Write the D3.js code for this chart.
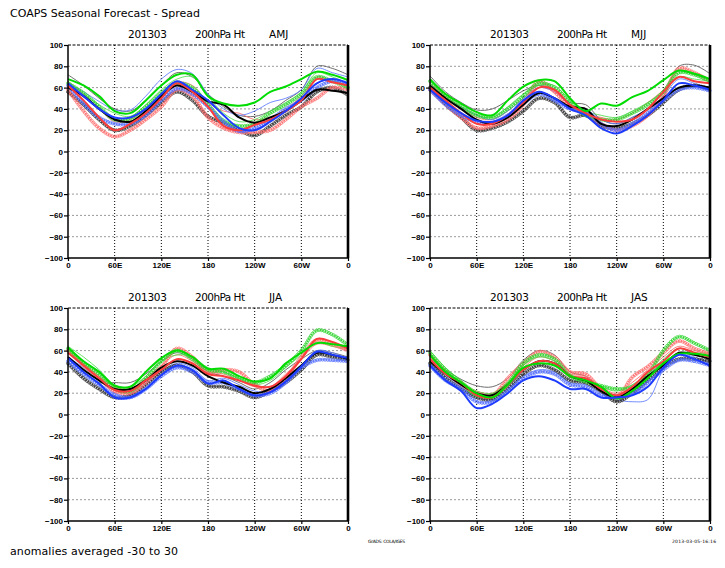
<!DOCTYPE html>
<html>
<head>
<meta charset="utf-8">
<script src="https://cdn.jsdelivr.net/npm/d3@7"></script>
<style>
  body { margin: 0; background: #fff; }
  text { font-family: "DejaVu Sans", sans-serif; fill: #000; }
  .tick text { font-family: "Liberation Sans", sans-serif; font-weight: bold; font-size: 8px; }
</style>
</head>
<body>
<div id="chart"></div>
<script>
// longitudes sampled every 20 degrees
var lons = [0, 20, 40, 60, 80, 100, 120, 140, 160, 180, 200, 220, 240, 260, 280, 300, 320, 340, 360];
var yTicks = [-100, -80, -60, -40, -20, 0, 20, 40, 60, 80, 100];
var xTickValues = [0, 60, 120, 180, 240, 300, 360];
var xTickLabels = ["0", "60E", "120E", "180", "120W", "60W", "0"];
var seasons = ["AMJ", "MJJ", "JJA", "JAS"];

var amj = {
  blackThin:  [72,62,50,40,38,48,62,74,70,54,42,34,33,38,48,58,80,78,72],
  blackThick: [60,52,40,30,28,38,52,62,56,47,44,32,27,32,38,48,58,57,55],
  blackCirc:  [56,44,30,20,24,34,46,56,48,33,27,20,15,24,34,42,56,60,53],
  redThin:    [66,54,40,28,30,40,54,65,62,46,38,36,30,32,40,52,70,66,63],
  redThick:   [62,48,32,20,26,36,50,64,56,42,24,20,25,30,38,48,68,65,62],
  redCirc:    [58,38,22,14,20,30,42,58,52,32,22,18,18,20,30,42,50,60,58],
  greenThin:  [66,54,44,36,33,44,58,68,70,52,36,28,30,38,46,56,74,70,64],
  greenThick: [68,62,52,38,36,48,62,72,72,52,45,43,46,56,61,68,75,72,67],
  greenCirc:  [64,55,42,30,31,42,55,64,60,44,29,24,26,36,44,54,70,66,60],
  blueThin:   [64,56,47,39,39,52,68,77,73,54,40,34,38,46,50,58,78,74,70],
  blueThick:  [64,52,40,32,32,40,54,66,58,48,34,22,20,28,38,50,64,68,64],
  blueCirc:   [62,45,32,26,26,34,48,59,54,42,28,19,22,30,40,48,60,66,64]
};

var mjj = {
  blackThin:  [71,56,46,39,40,48,57,62,58,46,44,30,26,32,40,52,80,81,73],
  blackThick: [62,50,40,30,26,32,44,55,50,42,40,26,24,30,40,50,60,62,60],
  blackCirc:  [60,44,32,20,22,28,38,50,46,32,34,24,22,26,34,46,58,62,58],
  redThin:    [64,52,42,32,30,38,50,60,56,44,36,32,30,36,46,58,76,72,68],
  redThick:   [60,48,36,26,26,34,46,60,58,44,36,30,28,30,40,56,70,66,64],
  redCirc:    [58,44,32,22,24,30,44,66,56,42,36,26,20,24,34,52,78,74,66],
  greenThin:  [66,52,42,34,32,42,54,62,62,48,38,34,32,38,46,56,70,68,66],
  greenThick: [68,54,45,37,34,48,61,67,66,50,38,45,43,51,57,67,76,73,68],
  greenCirc:  [66,52,42,34,32,40,52,64,60,46,34,30,30,36,44,56,74,72,66],
  blueThin:   [62,50,42,34,30,38,50,60,56,44,40,30,26,32,40,52,68,64,60],
  blueThick:  [58,46,36,29,28,34,48,56,50,40,34,22,17,24,34,48,64,62,58],
  blueCirc:   [58,44,34,28,27,34,45,54,48,40,38,26,20,26,36,48,58,60,57]
};

var jja = {
  blackThin:  [52,40,30,30,30,38,50,58,52,40,36,30,24,30,42,52,60,58,54],
  blackThick: [54,42,32,24,24,32,44,50,46,36,30,26,20,24,34,46,58,56,52],
  blackCirc:  [48,34,24,16,18,28,40,46,40,27,26,22,16,22,30,42,56,54,51],
  redThin:    [60,48,36,26,24,34,46,56,50,40,38,32,26,26,38,52,66,64,60],
  redThick:   [58,46,34,23,22,32,42,52,48,38,36,32,27,26,36,52,71,68,62],
  redCirc:    [60,46,34,22,20,30,44,62,54,40,42,40,28,22,34,54,70,66,60],
  greenThin:  [64,54,42,28,26,36,50,56,54,44,40,34,28,32,44,56,68,64,62],
  greenThick: [63,50,40,27,26,40,53,60,54,43,43,36,31,34,48,58,67,66,64],
  greenCirc:  [62,48,38,24,22,34,50,60,52,42,40,34,30,36,46,60,79,75,65],
  blueThin:   [54,44,34,20,18,28,40,48,44,32,34,28,22,22,32,46,60,58,52],
  blueThick:  [53,40,29,16,16,24,37,46,42,29,32,24,18,21,31,45,59,56,53],
  blueCirc:   [50,38,28,18,16,24,36,44,40,30,30,24,18,20,30,44,51,51,50]
};

var jas = {
  blackThin:  [52,42,33,27,26,34,51,60,56,40,36,24,13,22,36,50,62,56,53],
  blackThick: [50,38,28,20,18,28,42,50,48,36,32,22,16,24,36,46,58,56,52],
  blackCirc:  [48,34,24,16,14,24,38,46,42,32,30,22,12,20,32,44,52,52,50],
  redThin:    [54,40,30,22,20,30,44,54,50,38,36,26,20,30,42,54,64,60,56],
  redThick:   [52,38,30,18,16,28,42,50,48,36,34,24,18,26,40,50,62,58,54],
  redCirc:    [56,40,28,20,18,34,48,59,54,40,38,24,16,35,45,58,69,62,57],
  greenThin:  [60,44,32,22,20,30,46,54,50,38,32,26,22,28,38,52,62,58,58],
  greenThick: [56,40,30,20,16,28,44,48,46,36,32,26,15,22,34,48,57,57,55],
  greenCirc:  [58,42,30,18,18,29,48,56,52,36,31,27,24,26,37,60,73,67,60],
  blueThin:   [48,36,26,16,14,24,36,42,40,30,28,20,14,12,14,42,56,54,48],
  blueThick:  [46,32,22,6,10,20,32,36,32,24,24,16,16,18,26,44,56,52,46],
  blueCirc:   [46,32,24,12,12,22,34,40,38,28,26,18,17,20,30,42,51,50,46]
};

var seasonData = [amj, mjj, jja, jas];

// drawing style for each series
var seriesStyles = [
  { key: "blackThin",  color: "#555555", kind: "thin" },
  { key: "redThin",    color: "#ff6a6a", kind: "thin" },
  { key: "greenThin",  color: "#4fdc4f", kind: "thin" },
  { key: "blueThin",   color: "#5a78ff", kind: "thin" },
  { key: "blackCirc",  color: "#333333", kind: "circ" },
  { key: "redCirc",    color: "#ff7070", kind: "circ" },
  { key: "greenCirc",  color: "#33d633", kind: "circ" },
  { key: "blueCirc",   color: "#5570ff", kind: "circ" },
  { key: "blackThick", color: "#000000", kind: "thick" },
  { key: "redThick",   color: "#fa3c3c", kind: "thick" },
  { key: "greenThick", color: "#00dc00", kind: "thick" },
  { key: "blueThick",  color: "#1e3cff", kind: "thick" }
];

var svgWidth = 725;
var svgHeight = 568;
var panelWidth = 280;
var panelHeight = 213;
var panelPos = [
  { left: 68, top: 45 },
  { left: 430, top: 45 },
  { left: 68, top: 308 },
  { left: 430, top: 308 }
];

var svg = d3.select("#chart")
  .append("svg")
  .attr("width", svgWidth)
  .attr("height", svgHeight);

svg.append("text")
  .attr("x", 10).attr("y", 17)
  .attr("font-size", 11)
  .attr("textLength", 190)
  .text("COAPS Seasonal Forecast - Spread");

var xScale = d3.scaleLinear().domain([0, 360]).range([0, panelWidth]);
var yScale = d3.scaleLinear().domain([-100, 100]).range([panelHeight, 0]);

var line = d3.line()
  .x(function(d) { return xScale(d.lon); })
  .y(function(d) { return yScale(d.val); })
  .curve(d3.curveCatmullRom.alpha(0.5));

seasons.forEach(function(season, i) {
  var pos = panelPos[i];
  var g = svg.append("g")
    .attr("transform", `translate(${pos.left}, ${pos.top})`);

  // panel title
  var titleY = -7.5;
  g.append("text").attr("x", 60).attr("y", titleY).attr("font-size", 10.5)
    .attr("textLength", 39).text("201303");
  g.append("text").attr("x", 127).attr("y", titleY).attr("font-size", 10.5)
    .attr("textLength", 50).text("200hPa Ht");
  g.append("text").attr("x", 201).attr("y", titleY).attr("font-size", 10.5)
    .text(season);

  // horizontal grid
  g.selectAll(".hgrid")
    .data(yTicks.filter(function(v) { return v > -100 && v < 100; }))
    .enter().append("line")
    .attr("x1", 0).attr("x2", panelWidth)
    .attr("y1", d => yScale(d)).attr("y2", d => yScale(d))
    .attr("stroke", "#9a9a9a").attr("stroke-width", 1)
    .attr("stroke-dasharray", "2,2");

  // top line at 100 (dashed)
  g.append("line")
    .attr("x1", 0).attr("x2", panelWidth)
    .attr("y1", 0).attr("y2", 0)
    .attr("stroke", "#000").attr("stroke-width", 1)
    .attr("stroke-dasharray", "3,1.5");

  // vertical grid
  g.selectAll(".vgrid")
    .data(xTickValues.slice(1, -1))
    .enter().append("line")
    .attr("x1", d => xScale(d)).attr("x2", d => xScale(d))
    .attr("y1", 0).attr("y2", panelHeight)
    .attr("stroke", "#000").attr("stroke-width", 1)
    .attr("stroke-dasharray", "1,2");

  // series
  var data = seasonData[i];
  seriesStyles.forEach(function(s) {
    var pts = lons.map(function(lon, j) { return { lon: lon, val: data[s.key][j] }; });
    var path = g.append("path")
      .datum(pts)
      .attr("d", line)
      .attr("fill", "none")
      .attr("stroke", s.color)
      .attr("stroke-width", s.kind === "thick" ? 2 : (s.kind === "thin" ? 1 : 0.8))
      .attr("stroke-opacity", s.kind === "thin" ? 0.85 : 1);

    if (s.kind === "circ") {
      var node = path.node();
      var total = node.getTotalLength();
      var marks = [];
      for (var l = 0; l <= total; l += 2.6) {
        marks.push(node.getPointAtLength(l));
      }
      g.append("g").selectAll("circle")
        .data(marks)
        .enter().append("circle")
        .attr("cx", d => d.x)
        .attr("cy", d => d.y)
        .attr("r", 1.5)
        .attr("fill", "none")
        .attr("stroke", s.color)
        .attr("stroke-width", 0.8);
    }
  });

  // axes
  var yAxis = d3.axisLeft(yScale).tickValues(yTicks).tickSize(4).tickPadding(1)
    .tickFormat(d => d < 0 ? "\u2212" + Math.abs(d) : d);
  var xAxis = d3.axisBottom(xScale).tickValues(xTickValues).tickSize(3).tickPadding(1)
    .tickFormat((d, k) => xTickLabels[k]);

  var ya = g.append("g").call(yAxis);
  ya.select(".domain").attr("stroke-width", 1.5).attr("d", `M0,0V${panelHeight}`);
  ya.selectAll(".tick line").attr("stroke-width", 1.2);

  var xa = g.append("g").attr("transform", `translate(0, ${panelHeight})`).call(xAxis);
  xa.select(".domain").attr("stroke-width", 1.5).attr("d", `M0,0H${panelWidth}`);
  xa.selectAll(".tick line").attr("stroke-width", 1.2);

  // thick right border
  g.append("line")
    .attr("x1", panelWidth).attr("x2", panelWidth)
    .attr("y1", 0).attr("y2", panelHeight)
    .attr("stroke", "#000").attr("stroke-width", 2.6);
});

svg.append("text")
  .attr("x", 10).attr("y", 555)
  .attr("font-size", 11)
  .attr("textLength", 168)
  .text("anomalies averaged -30 to 30");

svg.append("text")
  .attr("x", 368).attr("y", 543)
  .attr("font-size", 4.5)
  .attr("textLength", 37)
  .text("GrADS: COLA/IGES");

svg.append("text")
  .attr("x", 672).attr("y", 543)
  .attr("font-size", 4.5)
  .attr("textLength", 44)
  .text("2013-03-05-16:16");
</script>
</body>
</html>
